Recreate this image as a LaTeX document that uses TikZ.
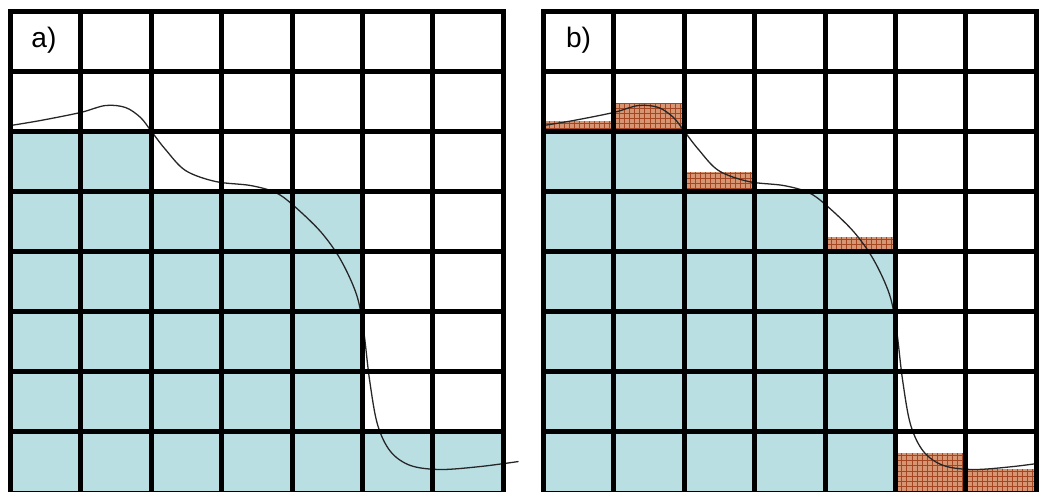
\documentclass[tikz,border=0pt]{standalone}
\usepackage{fontspec}
\setsansfont{Liberation Sans}
\usetikzlibrary{patterns}
\definecolor{cellblue}{RGB}{185,223,227}
\definecolor{cellbrown}{RGB}{214,150,115}
\definecolor{hatchbrown}{RGB}{165,70,35}
% coarser grid hatch than the built-in one
\pgfdeclarepatternformonly{coarsegrid}{\pgfqpoint{-1pt}{-1pt}}{\pgfqpoint{5pt}{5pt}}{\pgfqpoint{4.3pt}{4.3pt}}{%
  \pgfsetlinewidth{0.6pt}
  \pgfpathmoveto{\pgfqpoint{0pt}{0pt}}\pgfpathlineto{\pgfqpoint{0pt}{4.4pt}}
  \pgfpathmoveto{\pgfqpoint{0pt}{0pt}}\pgfpathlineto{\pgfqpoint{4.4pt}{0pt}}
  \pgfusepath{stroke}}
\tikzset{
  cellfill/.style={fill=cellblue, draw=none},
  errfill/.style={fill=cellbrown, draw=none},
  errhatch/.style={pattern=coarsegrid, pattern color=hatchbrown},
  gridline/.style={line width=4.3pt, line cap=rect},
  profile/.style={line width=1.1pt, black!85},
  panellabel/.style={font=\sffamily\fontsize{24}{24}\selectfont, inner sep=0pt}
}
% cell size in px
\newcommand{\cw}{70.4}
\newcommand{\ch}{60}
\newcommand{\profilecurve}{%
  plot[smooth, tension=0.55] coordinates {(0,114) (30,109) (70,101) (95,94) (115,96)
    (130,106) (141,120) (155,138) (175,159) (205,170) (240,174) (265,181)
    (283,194) (310,220) (330,248) (346,283) (353,318) (359,368) (367,413)
    (380,440) (400,454) (430,458) (470,455) (508,450)}}
\newcommand{\panelgrid}{%
  \foreach \i in {0,...,7} \draw[gridline] (\i*\cw,0) -- (\i*\cw,8*\ch);
  \foreach \j in {0,...,7} \draw[gridline] (0,\j*\ch) -- (7*\cw,\j*\ch);
  \draw[gridline] (0,8*\ch+2) -- (7*\cw,8*\ch+2);}
\begin{document}
\begin{tikzpicture}[x=0.03cm, y=-0.03cm]
  \useasboundingbox (0,0) rectangle (1039,491);
  \clip (0,0) rectangle (1039,491);

  % a) filled cells
  \begin{scope}[shift={(10.5,11.5)}]
    \fill[cellfill] (0,2*\ch) rectangle (2*\cw,8*\ch);
    \fill[cellfill] (2*\cw,3*\ch) rectangle (5*\cw,8*\ch);
    \fill[cellfill] (5*\cw,7*\ch) rectangle (7*\cw,8*\ch);
    \draw[profile] \profilecurve;
    \panelgrid
    \node[panellabel] (la) at (33.5,28.5) {a)};
  \end{scope}

  % b) filled cells plus error strips
  \begin{scope}[shift={(543.5,11.5)}]
    \fill[cellfill] (0,2*\ch) rectangle (2*\cw,8*\ch);
    \fill[cellfill] (2*\cw,3*\ch) rectangle (4*\cw,8*\ch);
    \fill[cellfill] (4*\cw,4*\ch) rectangle (5*\cw,8*\ch);
    \foreach \c/\t/\b in {0/109.5/120, 1/91.5/120, 2/160.5/180, 4/225.5/240,
                          5/441.5/480, 6/457.5/480} {
      \fill[errfill] (\c*\cw,\t) rectangle ({(\c+1)*\cw},\b);
      \fill[errhatch] (\c*\cw,\t) rectangle ({(\c+1)*\cw},\b);
    }
    \draw[profile] \profilecurve;
    \panelgrid
    \node[panellabel] (lb) at (35,28.5) {b)};
  \end{scope}
\end{tikzpicture}
\end{document}
